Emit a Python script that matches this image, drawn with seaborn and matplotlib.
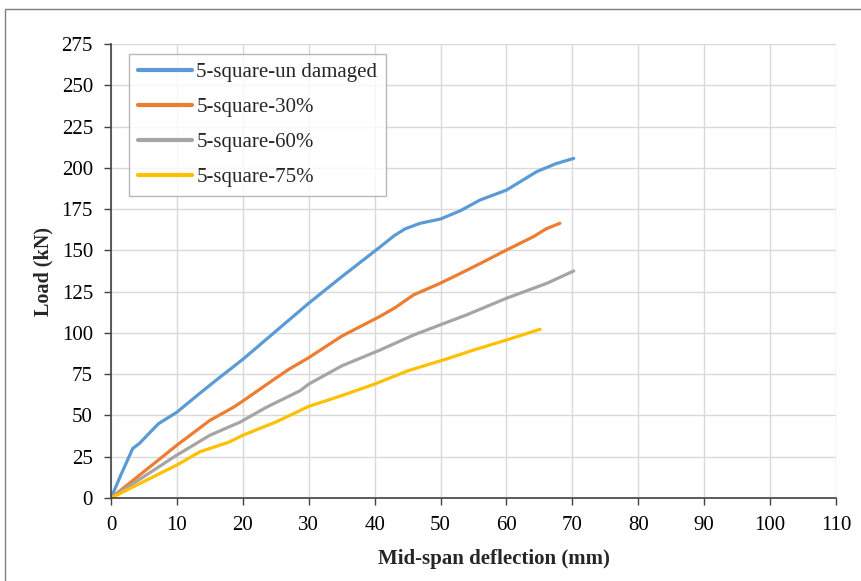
import matplotlib
matplotlib.use("Agg")
import matplotlib.pyplot as plt
import seaborn as sns
import pandas as pd
from matplotlib.patches import Rectangle

series_names = ["5-square-un damaged", "5-square-30%", "5-square-60%", "5-square-75%"]
colors = ["#5B9BD5", "#ED7D31", "#A5A5A5", "#FFC000"]

x_undamaged = [0, 1.5, 3.3, 4.3, 5.5, 7.2, 10, 13.5, 16, 20, 25, 30, 35, 40.8, 43, 44.6, 46.9, 50, 53, 56, 60, 64.6, 67.5, 70.2]
y_undamaged = [0, 14, 30, 33, 38, 45, 52, 63.5, 71.5, 84, 101, 118, 134, 152, 159, 163, 166.4, 169, 174, 180.5, 186.5, 197.7, 202.5, 205.7]

x_30 = [0, 5, 10, 15, 18.6, 20.1, 24.6, 27, 30, 35, 40.8, 43, 45.9, 49.9, 53, 56, 60, 64.1, 66, 68.1]
y_30 = [0, 16, 32, 47, 55, 59, 71.5, 78, 85, 98, 110, 115, 123, 130, 136, 142, 150.2, 158.3, 163, 166.4]

x_60 = [0, 5, 10, 15, 19.6, 23.6, 28.7, 30, 35, 40.8, 45.9, 49.9, 54, 60, 66.1, 70.2]
y_60 = [0, 13, 26, 38, 46, 55, 65, 69, 80, 89.6, 98.7, 104.8, 111, 121, 130, 137.5]

x_75 = [0, 5, 10, 13.5, 18, 20, 25, 28.7, 30, 35, 40, 45, 50.9, 55, 60, 65.1]
y_75 = [0, 10, 20, 28, 34, 38, 46, 53, 55.5, 62, 69, 77, 84.2, 89.6, 95.7, 102.2]

x_ticks = list(range(0, 111, 10))
y_ticks = list(range(0, 276, 25))

frames = []
for name, xs, ys in zip(series_names,
                        [x_undamaged, x_30, x_60, x_75],
                        [y_undamaged, y_30, y_60, y_75]):
    frames.append(pd.DataFrame({"x": xs, "y": ys, "series": name, "order": range(len(xs))}))
df = pd.concat(frames, ignore_index=True)

sns.set_theme(style="white")
plt.rcParams["font.family"] = ["Liberation Serif", "DejaVu Serif"]

fig = plt.figure(figsize=(8.61, 5.81), dpi=100)
ax = fig.add_axes([111/861, 83/581, (836-111)/861, (498-44)/581])

sns.lineplot(data=df, x="x", y="y", hue="series", hue_order=series_names,
             palette=colors, sort=False, estimator=None, linewidth=2.3, ax=ax)

ax.set_xlim(0, 110)
ax.set_ylim(0, 275)
ax.set_xticks(x_ticks)
ax.set_yticks(y_ticks)
ax.grid(True, color="#D9D9D9", linewidth=1.0)
ax.set_axisbelow(True)
for s in ["top", "right"]:
    ax.spines[s].set_visible(False)
for s in ["left", "bottom"]:
    ax.spines[s].set_color("#404040")
    ax.spines[s].set_linewidth(1.2)
ax.tick_params(axis="both", direction="out", length=5, width=1, color="#404040",
               labelsize=15, labelcolor="black", bottom=True, left=True)
ax.tick_params(axis="y", pad=8)
ax.tick_params(axis="x", pad=8)

ax.set_xlabel("Mid-span deflection (mm)", fontsize=15, fontweight="bold", labelpad=10)
ax.xaxis.label.set_x(0.528)
ax.set_ylabel("Load (kN)", fontsize=14.5, fontweight="bold", labelpad=6)

leg = ax.legend(loc="upper left", bbox_to_anchor=(0.025, 0.978), fontsize=15,
                frameon=True, fancybox=False, edgecolor="#A6A6A6",
                handlelength=2.6, handletextpad=0.2, labelspacing=0.74,
                borderpad=0.42, borderaxespad=0)
leg.get_frame().set_linewidth(1.0)
for line in leg.get_lines():
    line.set_linewidth(3)

fig.patches.append(Rectangle((5/861, -0.05), 1.1, 0.05 + (581-9)/581,
                             transform=fig.transFigure, fill=False,
                             edgecolor="#7F7F7F", linewidth=1.0))

fig.savefig("out.png", dpi=100)
